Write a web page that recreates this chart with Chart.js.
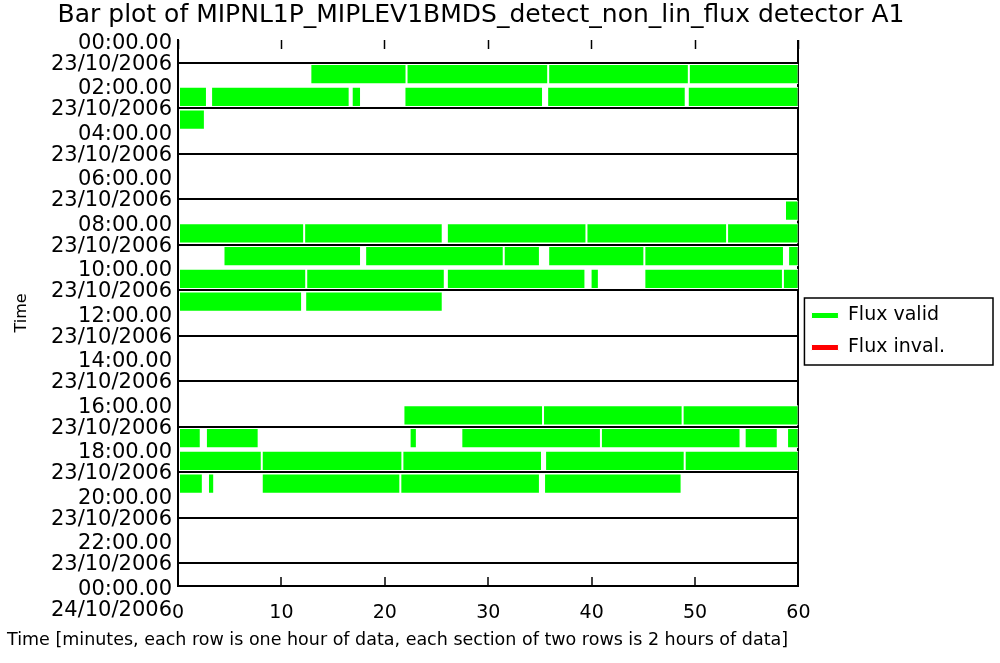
<!DOCTYPE html>
<html lang="en">
<head>
<meta charset="UTF-8">
<title>Bar plot</title>
<style>
  body { margin: 0; background: #fff; }
</style>
</head>
<body>
<div style="width: 1000px; height: 663px;">
  <canvas id="myChart"></canvas>
</div>
<script src="https://cdn.jsdelivr.net/npm/chart.js"></script>
<script>
// one list per hour row (00..23), each entry is [start, end] in minutes
const validRows = [
  [],                                                                           // 00
  [[12.8, 22.1], [22.1, 35.8], [35.8, 49.4], [49.4, 60]],                       // 01
  [[0, 2.8], [3.2, 16.6], [16.8, 17.7], [21.9, 35.3], [35.7, 49.1], [49.3, 60]], // 02
  [[0, 2.6]],                                                                   // 03
  [], [], [],                                                                   // 04-06
  [[58.7, 60]],                                                                 // 07
  [[0, 12.2], [12.2, 25.6], [26.0, 39.5], [39.5, 53.1], [53.1, 60]],            // 08
  [[4.4, 17.7], [18.1, 31.5], [31.5, 35.0], [35.8, 45.1], [45.1, 58.6], [59.0, 60]], // 09
  [[0, 12.4], [12.4, 25.8], [26.0, 39.4], [39.9, 40.7], [45.1, 58.5], [58.5, 60]],   // 10
  [[0, 12.0], [12.3, 25.6]],                                                    // 11
  [], [], [], [],                                                               // 12-15
  [[21.8, 35.3], [35.3, 48.8], [48.8, 60]],                                     // 16
  [[0, 2.2], [2.7, 7.8], [22.4, 23.1], [27.4, 40.9], [40.9, 54.4], [54.8, 58.0], [58.9, 60]], // 17
  [[0, 8.1], [8.1, 21.7], [21.7, 35.2], [35.5, 49.0], [49.0, 60]],              // 18
  [[0, 2.4], [2.9, 3.5], [8.1, 21.5], [21.5, 35.0], [35.4, 48.7]],              // 19
  [], [], [], []                                                                // 20-23
];
const invalidRows = [];   // no invalid flux in this file

const yTickTimes = ['00:00.00', '02:00.00', '04:00.00', '06:00.00', '08:00.00', '10:00.00', '12:00.00',
                    '14:00.00', '16:00.00', '18:00.00', '20:00.00', '22:00.00', '00:00.00'];
const yTickDates = ['23/10/2006', '23/10/2006', '23/10/2006', '23/10/2006', '23/10/2006', '23/10/2006', '23/10/2006',
                    '23/10/2006', '23/10/2006', '23/10/2006', '23/10/2006', '23/10/2006', '24/10/2006'];

function toBars(rows) {
  const out = [];
  rows.forEach((segs, h) => {
    segs.forEach(s => out.push({ x: s, y: h + 0.5 }));
  });
  return out;
}

const FONT = 'DejaVu Sans';
Chart.defaults.font.family = FONT;
Chart.defaults.color = '#000';

// box round the legend like the original plot
const legendFrame = {
  id: 'legendFrame',
  afterDraw(chart) {
    const boxes = chart.legend.legendHitBoxes;
    if (!boxes || !boxes.length) return;
    let l = Infinity, t = Infinity, b = -Infinity;
    boxes.forEach(h => {
      l = Math.min(l, h.left);
      t = Math.min(t, h.top);
      b = Math.max(b, h.top + h.height);
    });
    const ctx = chart.ctx;
    ctx.save();
    ctx.strokeStyle = '#000';
    ctx.lineWidth = 1.5;
    ctx.strokeRect(l - 7, t - 8, chart.width - 7 - (l - 7), b - t + 16);
    ctx.restore();
  }
};

const ctx = document.querySelector('#myChart');
new Chart(ctx, {
  type: 'bar',
  data: {
    datasets: [{
      label: 'Flux valid',
      data: toBars(validRows),
      backgroundColor: '#00ff00',
      borderColor: '#ffffff',
      borderWidth: 1,
      borderSkipped: false,
      grouped: false,
      categoryPercentage: 1,
      barPercentage: 0.88
    }, {
      label: 'Flux inval.',
      data: toBars(invalidRows),
      backgroundColor: '#ff0000',
      borderColor: '#ffffff',
      borderWidth: 1,
      borderSkipped: false,
      grouped: false,
      categoryPercentage: 1,
      barPercentage: 0.88
    }]
  },
  options: {
    indexAxis: 'y',
    responsive: true,
    maintainAspectRatio: false,
    animation: false,
    layout: { padding: { left: 7, right: 45, top: 0, bottom: 0 } },
    plugins: {
      title: {
        display: true,
        text: 'Bar plot of MIPNL1P_MIPLEV1BMDS_detect_non_lin_flux detector A1',
        color: '#000',
        font: { size: 25, weight: 'normal' },
        padding: { top: 0, bottom: 10 }
      },
      subtitle: {
        display: true,
        position: 'bottom',
        align: 'start',
        text: 'Time [minutes, each row is one hour of data, each section of two rows is 2 hours of data]',
        color: '#000',
        font: { size: 17.5 },
        padding: { top: 0, bottom: 12 }
      },
      legend: {
        position: 'right',
        labels: {
          boxWidth: 27,
          boxHeight: 6,
          padding: 13,
          color: '#000',
          font: { size: 19 }
        }
      },
      tooltip: { enabled: false }
    },
    scales: {
      x: {
        type: 'linear',
        position: 'bottom',
        min: 0,
        max: 60,
        afterFit: s => { s.height = 44; },
        ticks: { stepSize: 10, padding: 25, color: '#000', font: { size: 19 } },
        grid: {
          color: c => (c.tick && c.tick.value === 60) ? '#000' : 'rgba(0,0,0,0)',
          lineWidth: 2,
          tickColor: '#000',
          tickLength: -9,
          tickWidth: 1.5
        },
        border: { color: '#000', width: 2 }
      },
      x2: {
        type: 'linear',
        position: 'top',
        min: 0,
        max: 60,
        afterFit: s => { s.height = 0; },
        ticks: { stepSize: 10, display: false },
        grid: { drawOnChartArea: false, tickColor: '#000', tickLength: -9, tickWidth: 1.5 },
        border: { display: false }
      },
      y: {
        type: 'linear',
        reverse: true,
        min: 0,
        max: 24,
        offset: false,
        afterFit: s => { s.width = 171; },
        ticks: {
          stepSize: 2,
          autoSkip: false,
          padding: 6,
          labelOffset: 14,
          color: '#000',
          font: { size: 21, lineHeight: 1.0 },
          callback: v => [yTickTimes[v / 2], yTickDates[v / 2]]
        },
        grid: { color: '#000', lineWidth: 2, drawTicks: false },
        border: { color: '#000', width: 2 },
        title: {
          display: true,
          text: 'Time',
          color: '#000',
          font: { size: 16 },
          padding: { top: 5, bottom: 0 }
        }
      }
    }
  },
  plugins: [legendFrame]
});
</script>
</body>
</html>
